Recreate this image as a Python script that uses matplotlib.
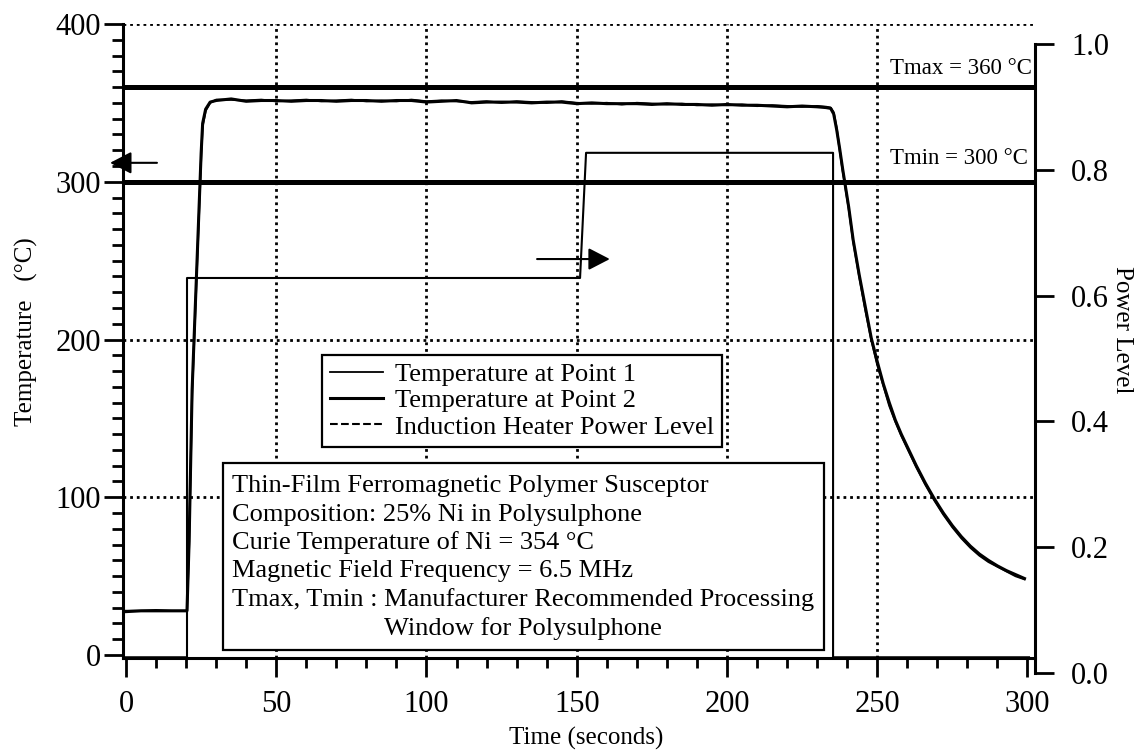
import matplotlib
matplotlib.use('Agg')
import matplotlib.pyplot as plt
from matplotlib.lines import Line2D
from matplotlib.patches import Rectangle
from matplotlib.ticker import MultipleLocator, FixedLocator, FormatStrFormatter

plt.rcParams['font.family'] = ['Liberation Serif', 'DejaVu Serif']

# ---------------- data ----------------
time_s = [0, 5, 10, 15, 20.3, 21, 22, 23, 24, 25, 25.5, 26.5, 28,
          30, 35, 40, 45, 50, 55, 60, 65, 70, 75, 80, 85, 90, 95, 100,
          105, 110, 115, 120, 125, 130, 135, 140, 145, 150, 155, 160,
          165, 170, 175, 180, 185, 190, 195, 200, 205, 210, 215, 220,
          225, 230,
          233, 234.5, 235.5, 236.5, 237.5, 238.5, 239.5, 240.5, 242, 244,
          246, 248, 250, 252, 254, 256, 258, 260, 263, 266, 269, 272, 275,
          278, 281, 284, 287, 290, 293, 296, 299]

temp_point1 = [28, 28, 28.5, 28, 28, 70, 165, 215, 265, 315, 335, 345, 350,
               352, 352, 351.5, 352, 351, 351.5, 352, 351, 351.5, 352, 351,
               351.5, 351, 352, 351, 351.5, 351, 350.5, 351, 350, 351, 350.5,
               350, 351, 350, 349.5, 350, 349, 350, 349.5, 349, 349.5, 348.5,
               349, 348.5, 349, 348, 348.5, 348, 347.5, 348,
               347.5, 347, 344, 334, 320, 307, 295, 283, 262, 240, 219, 200,
               184, 171, 158, 148, 139, 131, 119, 108, 98, 89, 81, 74, 68, 63,
               59, 56, 53, 50, 48]

temp_point2 = [27.5, 28, 28, 28, 28, 72, 168, 218, 268, 318, 337, 346, 350.5,
               351.5, 352.5, 351, 351.5, 351.5, 351, 351.5, 351.5, 351, 351.5,
               351.5, 351, 351.5, 351.5, 350.5, 351, 351.5, 350, 350.5, 350.5,
               350.5, 350, 350.5, 350.5, 349.5, 350, 349.5, 349.5, 349.5, 349,
               349.5, 349, 349, 348.5, 349, 348.5, 348.5, 348, 347.5, 348, 347.5,
               347, 346.5, 343, 333, 321, 308, 296, 284, 263, 241, 221, 201,
               186, 172, 160, 149, 140, 132, 120, 109, 99, 90, 82, 75, 69, 64,
               60, 56.5, 53.5, 51, 48.5]

power_time = [0, 20.3, 20.3, 151.1, 153.1, 235.3, 235.3, 300.5]
power_level = [0.025, 0.025, 0.628, 0.628, 0.827, 0.827, 0.025, 0.025]

t_max = 360
t_min = 300

x_ticks = [0, 50, 100, 150, 200, 250, 300]
temp_ticks = [0, 100, 200, 300, 400]
power_ticks = [0.0, 0.2, 0.4, 0.6, 0.8, 1.0]

legend_labels = ['Temperature at Point 1', 'Temperature at Point 2',
                 'Induction Heater Power Level']
box_lines = ['Thin-Film Ferromagnetic Polymer Susceptor',
             'Composition: 25% Ni in Polysulphone',
             'Curie Temperature of Ni = 354 °C',
             'Magnetic Field Frequency = 6.5 MHz',
             'Tmax, Tmin : Manufacturer Recommended Processing',
             'Window for Polysulphone']

# ---------------- layout helpers ----------------
W, H = 1141, 754
fig = plt.figure(figsize=(W / 100, H / 100), dpi=100)


def fx(px):
    return px / W


def fy(py):
    return 1 - py / H


L, R, T, B = 123, 1035, 24, 658
ax = fig.add_axes([fx(L), fy(B), fx(R) - fx(L), fy(T) - fy(B)])
ax2 = fig.add_axes([fx(L), fy(673), fx(R) - fx(L), fy(44) - fy(673)])


def axx(px):
    return (px - L) / (R - L)


def axy(py):
    return (B - py) / (B - T)


# ---------------- main axis ----------------
ax.set_xlim(-1.0, 302.5)
ax.set_ylim(-1.9, 400)
ax.xaxis.set_major_locator(FixedLocator(x_ticks))
ax.xaxis.set_minor_locator(MultipleLocator(10))
ax.yaxis.set_major_locator(FixedLocator(temp_ticks))
ax.yaxis.set_minor_locator(MultipleLocator(10))

for s in ['top', 'right']:
    ax.spines[s].set_visible(False)
for s in ['left', 'bottom']:
    ax.spines[s].set_linewidth(2.2)

ax.tick_params(axis='y', which='major', direction='out', length=14, width=2,
               pad=2, labelsize=22)
ax.tick_params(axis='y', which='minor', direction='out', length=8, width=2)
ax.tick_params(axis='x', which='major', direction='out', length=14, width=2,
               pad=9, labelsize=22)
ax.tick_params(axis='x', which='minor', direction='out', length=7, width=2)

ax.grid(True, which='major', linestyle=(0, (1, 1.4)), color='k', linewidth=2.0)
# no grid line at the outer frame positions
ax.xaxis.get_major_ticks()[-1].gridline.set_visible(False)
ax.xaxis.get_major_ticks()[0].gridline.set_visible(False)
ax.yaxis.get_major_ticks()[0].gridline.set_visible(False)

ax.plot(time_s, temp_point1, color='k', lw=1.5, zorder=3)
ax.plot(time_s, temp_point2, color='k', lw=2.2, zorder=3)
ax.axhline(t_max, color='k', lw=3.6, zorder=3)
ax.axhline(t_min, color='k', lw=3.6, zorder=3)

ax.text(axx(890), axy(68), f'Tmax = {t_max} °C', transform=ax.transAxes,
        fontsize=16.5, va='center', ha='left')
ax.text(axx(890), axy(158), f'Tmin = {t_min} °C', transform=ax.transAxes,
        fontsize=16.5, va='center', ha='left')

ax.set_xlabel('Time (seconds)', fontsize=18)
ax.xaxis.set_label_coords(axx(586), axy(738))
ax.xaxis.label.set_va('center')
ax.set_ylabel('Temperature   (°C)', fontsize=18)
ax.yaxis.set_label_coords(axx(26), axy(332))
ax.yaxis.label.set_va('center')

# arrows indicating which axis each quantity uses
a1 = ax.annotate('', xy=(-5.3, 312), xytext=(10.3, 312),
                 arrowprops=dict(arrowstyle='-|>,head_length=0.87,head_width=0.45',
                                 mutation_scale=15, color='k', lw=1.5,
                                 shrinkA=0, shrinkB=0),
                 annotation_clip=False)
a1.arrow_patch.set_clip_on(False)
a2 = ax.annotate('', xy=(161, 251), xytext=(136.8, 251),
                 arrowprops=dict(arrowstyle='-|>,head_length=0.87,head_width=0.45',
                                 mutation_scale=15, color='k', lw=1.5,
                                 shrinkA=0, shrinkB=0))

# text box
ax.add_patch(Rectangle((axx(223), axy(650)), axx(824) - axx(223),
                       axy(463) - axy(650), transform=ax.transAxes,
                       facecolor='white', edgecolor='k', lw=1.6, zorder=4))
baselines = [492, 520.5, 549, 577.5, 606, 634.5]
for i, (line, yb) in enumerate(zip(box_lines, baselines)):
    xl = 384 if i == len(box_lines) - 1 else 232
    ax.text(axx(xl), axy(yb), line, transform=ax.transAxes, fontsize=19,
            va='baseline', ha='left', zorder=5)

# legend
handles = [Line2D([], [], color='k', lw=1.3),
           Line2D([], [], color='k', lw=2.2),
           Line2D([], [], color='k', lw=1.5, linestyle='--')]
leg = ax.legend(handles, legend_labels, loc='upper left',
                bbox_to_anchor=(axx(322), axy(355)), frameon=True,
                fancybox=False, edgecolor='k', framealpha=1, fontsize=19,
                handlelength=2.0, handletextpad=0.45, borderpad=0.3,
                labelspacing=0.1, borderaxespad=0)
leg.get_frame().set_linewidth(1.6)
leg.set_zorder(6)

# ---------------- right (power) axis ----------------
ax2.patch.set_visible(False)
ax2.set_xlim(-1.0, 302.5)
ax2.set_ylim(0, 1.0)
for s in ['top', 'left', 'bottom']:
    ax2.spines[s].set_visible(False)
ax2.spines['right'].set_linewidth(2.2)
ax2.yaxis.set_major_locator(FixedLocator(power_ticks))
ax2.yaxis.set_major_formatter(FormatStrFormatter('%.1f'))
ax2.tick_params(axis='x', bottom=False, labelbottom=False)
ax2.tick_params(axis='y', left=False, labelleft=False, right=True,
                labelright=True, direction='out', length=14, width=2,
                pad=12, labelsize=22)
ax2.plot(power_time, power_level, color='k', lw=1.5, clip_on=False)
ax2.set_ylabel('Power Level', fontsize=18, rotation=270)
ax2.yaxis.set_label_position('right')
ax2.yaxis.set_label_coords((1122 - L) / (R - L), (673 - 330) / (673 - 44))
ax2.yaxis.label.set_va('center')
ax2.yaxis.label.set_ha('center')

fig.savefig('out.png', dpi=100)
